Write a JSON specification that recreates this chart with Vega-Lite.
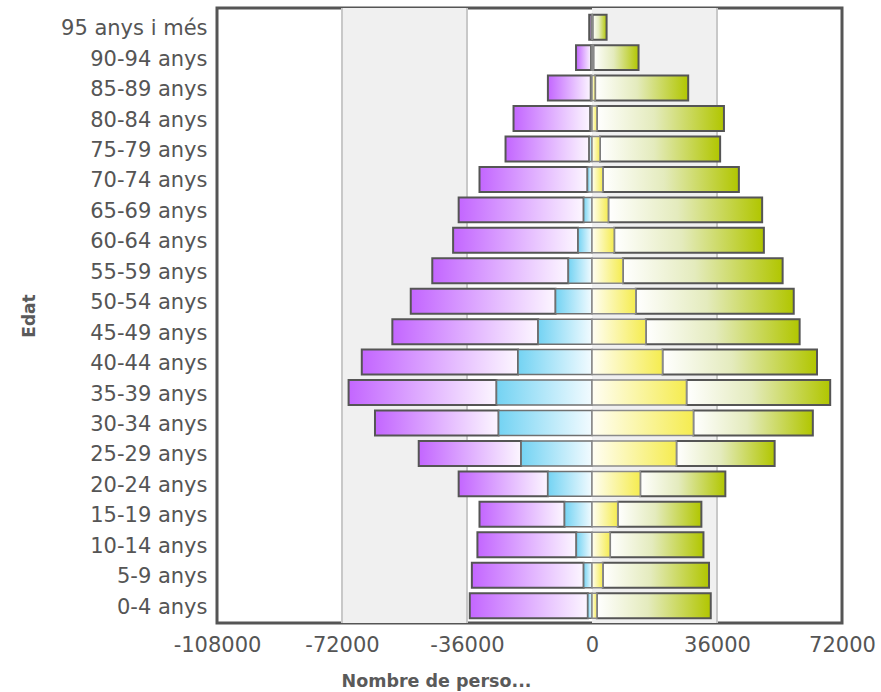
{
  "$schema": "https://vega.github.io/schema/vega-lite/v6.json",
  "autosize": "none",
  "width": 625,
  "height": 615,
  "padding": {"left": 217, "top": 8, "right": 39, "bottom": 69},
  "background": "#ffffff",
  "config": {
    "view": {"stroke": "#555555", "strokeWidth": 3},
    "font": "DejaVu Sans"
  },
  "datasets": {
    "piramide": [
      {"edat": "95 anys i més", "sexe": "Homes", "nacionalitat": "Estrangera", "persones": -100},
      {"edat": "95 anys i més", "sexe": "Homes", "nacionalitat": "Espanyola", "persones": -700},
      {"edat": "95 anys i més", "sexe": "Dones", "nacionalitat": "Estrangera", "persones": 150},
      {"edat": "95 anys i més", "sexe": "Dones", "nacionalitat": "Espanyola", "persones": 4050},
      {"edat": "90-94 anys", "sexe": "Homes", "nacionalitat": "Estrangera", "persones": -250},
      {"edat": "90-94 anys", "sexe": "Homes", "nacionalitat": "Espanyola", "persones": -4350},
      {"edat": "90-94 anys", "sexe": "Dones", "nacionalitat": "Estrangera", "persones": 400},
      {"edat": "90-94 anys", "sexe": "Dones", "nacionalitat": "Espanyola", "persones": 13000},
      {"edat": "85-89 anys", "sexe": "Homes", "nacionalitat": "Estrangera", "persones": -350},
      {"edat": "85-89 anys", "sexe": "Homes", "nacionalitat": "Espanyola", "persones": -12350},
      {"edat": "85-89 anys", "sexe": "Dones", "nacionalitat": "Estrangera", "persones": 900},
      {"edat": "85-89 anys", "sexe": "Dones", "nacionalitat": "Espanyola", "persones": 26800},
      {"edat": "80-84 anys", "sexe": "Homes", "nacionalitat": "Estrangera", "persones": -500},
      {"edat": "80-84 anys", "sexe": "Homes", "nacionalitat": "Espanyola", "persones": -22100},
      {"edat": "80-84 anys", "sexe": "Dones", "nacionalitat": "Estrangera", "persones": 1400},
      {"edat": "80-84 anys", "sexe": "Dones", "nacionalitat": "Espanyola", "persones": 36600},
      {"edat": "75-79 anys", "sexe": "Homes", "nacionalitat": "Estrangera", "persones": -800},
      {"edat": "75-79 anys", "sexe": "Homes", "nacionalitat": "Espanyola", "persones": -24100},
      {"edat": "75-79 anys", "sexe": "Dones", "nacionalitat": "Estrangera", "persones": 2300},
      {"edat": "75-79 anys", "sexe": "Dones", "nacionalitat": "Espanyola", "persones": 34600},
      {"edat": "70-74 anys", "sexe": "Homes", "nacionalitat": "Estrangera", "persones": -1300},
      {"edat": "70-74 anys", "sexe": "Homes", "nacionalitat": "Espanyola", "persones": -31100},
      {"edat": "70-74 anys", "sexe": "Dones", "nacionalitat": "Estrangera", "persones": 3100},
      {"edat": "70-74 anys", "sexe": "Dones", "nacionalitat": "Espanyola", "persones": 39200},
      {"edat": "65-69 anys", "sexe": "Homes", "nacionalitat": "Estrangera", "persones": -2400},
      {"edat": "65-69 anys", "sexe": "Homes", "nacionalitat": "Espanyola", "persones": -36000},
      {"edat": "65-69 anys", "sexe": "Dones", "nacionalitat": "Estrangera", "persones": 4700},
      {"edat": "65-69 anys", "sexe": "Dones", "nacionalitat": "Espanyola", "persones": 44300},
      {"edat": "60-64 anys", "sexe": "Homes", "nacionalitat": "Estrangera", "persones": -4000},
      {"edat": "60-64 anys", "sexe": "Homes", "nacionalitat": "Espanyola", "persones": -36000},
      {"edat": "60-64 anys", "sexe": "Dones", "nacionalitat": "Estrangera", "persones": 6400},
      {"edat": "60-64 anys", "sexe": "Dones", "nacionalitat": "Espanyola", "persones": 43100},
      {"edat": "55-59 anys", "sexe": "Homes", "nacionalitat": "Estrangera", "persones": -6800},
      {"edat": "55-59 anys", "sexe": "Homes", "nacionalitat": "Espanyola", "persones": -39200},
      {"edat": "55-59 anys", "sexe": "Dones", "nacionalitat": "Estrangera", "persones": 8900},
      {"edat": "55-59 anys", "sexe": "Dones", "nacionalitat": "Espanyola", "persones": 46000},
      {"edat": "50-54 anys", "sexe": "Homes", "nacionalitat": "Estrangera", "persones": -10500},
      {"edat": "50-54 anys", "sexe": "Homes", "nacionalitat": "Espanyola", "persones": -41700},
      {"edat": "50-54 anys", "sexe": "Dones", "nacionalitat": "Estrangera", "persones": 12600},
      {"edat": "50-54 anys", "sexe": "Dones", "nacionalitat": "Espanyola", "persones": 45500},
      {"edat": "45-49 anys", "sexe": "Homes", "nacionalitat": "Estrangera", "persones": -15500},
      {"edat": "45-49 anys", "sexe": "Homes", "nacionalitat": "Espanyola", "persones": -42000},
      {"edat": "45-49 anys", "sexe": "Dones", "nacionalitat": "Estrangera", "persones": 15500},
      {"edat": "45-49 anys", "sexe": "Dones", "nacionalitat": "Espanyola", "persones": 44300},
      {"edat": "40-44 anys", "sexe": "Homes", "nacionalitat": "Estrangera", "persones": -21300},
      {"edat": "40-44 anys", "sexe": "Homes", "nacionalitat": "Espanyola", "persones": -45000},
      {"edat": "40-44 anys", "sexe": "Dones", "nacionalitat": "Estrangera", "persones": 20300},
      {"edat": "40-44 anys", "sexe": "Dones", "nacionalitat": "Espanyola", "persones": 44500},
      {"edat": "35-39 anys", "sexe": "Homes", "nacionalitat": "Estrangera", "persones": -27500},
      {"edat": "35-39 anys", "sexe": "Homes", "nacionalitat": "Espanyola", "persones": -42600},
      {"edat": "35-39 anys", "sexe": "Dones", "nacionalitat": "Estrangera", "persones": 27200},
      {"edat": "35-39 anys", "sexe": "Dones", "nacionalitat": "Espanyola", "persones": 41400},
      {"edat": "30-34 anys", "sexe": "Homes", "nacionalitat": "Estrangera", "persones": -26900},
      {"edat": "30-34 anys", "sexe": "Homes", "nacionalitat": "Espanyola", "persones": -35600},
      {"edat": "30-34 anys", "sexe": "Dones", "nacionalitat": "Estrangera", "persones": 29200},
      {"edat": "30-34 anys", "sexe": "Dones", "nacionalitat": "Espanyola", "persones": 34400},
      {"edat": "25-29 anys", "sexe": "Homes", "nacionalitat": "Estrangera", "persones": -20400},
      {"edat": "25-29 anys", "sexe": "Homes", "nacionalitat": "Espanyola", "persones": -29500},
      {"edat": "25-29 anys", "sexe": "Dones", "nacionalitat": "Estrangera", "persones": 24300},
      {"edat": "25-29 anys", "sexe": "Dones", "nacionalitat": "Espanyola", "persones": 28300},
      {"edat": "20-24 anys", "sexe": "Homes", "nacionalitat": "Estrangera", "persones": -12700},
      {"edat": "20-24 anys", "sexe": "Homes", "nacionalitat": "Espanyola", "persones": -25700},
      {"edat": "20-24 anys", "sexe": "Dones", "nacionalitat": "Estrangera", "persones": 13900},
      {"edat": "20-24 anys", "sexe": "Dones", "nacionalitat": "Espanyola", "persones": 24500},
      {"edat": "15-19 anys", "sexe": "Homes", "nacionalitat": "Estrangera", "persones": -7900},
      {"edat": "15-19 anys", "sexe": "Homes", "nacionalitat": "Espanyola", "persones": -24500},
      {"edat": "15-19 anys", "sexe": "Dones", "nacionalitat": "Estrangera", "persones": 7400},
      {"edat": "15-19 anys", "sexe": "Dones", "nacionalitat": "Espanyola", "persones": 24100},
      {"edat": "10-14 anys", "sexe": "Homes", "nacionalitat": "Estrangera", "persones": -4500},
      {"edat": "10-14 anys", "sexe": "Homes", "nacionalitat": "Espanyola", "persones": -28500},
      {"edat": "10-14 anys", "sexe": "Dones", "nacionalitat": "Estrangera", "persones": 5200},
      {"edat": "10-14 anys", "sexe": "Dones", "nacionalitat": "Espanyola", "persones": 26900},
      {"edat": "5-9 anys", "sexe": "Homes", "nacionalitat": "Estrangera", "persones": -2400},
      {"edat": "5-9 anys", "sexe": "Homes", "nacionalitat": "Espanyola", "persones": -32200},
      {"edat": "5-9 anys", "sexe": "Dones", "nacionalitat": "Estrangera", "persones": 3100},
      {"edat": "5-9 anys", "sexe": "Dones", "nacionalitat": "Espanyola", "persones": 30600},
      {"edat": "0-4 anys", "sexe": "Homes", "nacionalitat": "Estrangera", "persones": -1200},
      {"edat": "0-4 anys", "sexe": "Homes", "nacionalitat": "Espanyola", "persones": -34000},
      {"edat": "0-4 anys", "sexe": "Dones", "nacionalitat": "Estrangera", "persones": 1400},
      {"edat": "0-4 anys", "sexe": "Dones", "nacionalitat": "Espanyola", "persones": 32800}
    ],
    "bandes": [
      {"inici": -72000, "fi": -36000},
      {"inici": 0, "fi": 36000}
    ],
    "linies": [
      {"valor": -72000},
      {"valor": -36000},
      {"valor": 36000}
    ]
  },
  "layer": [
    {
      "data": {"name": "bandes"},
      "mark": {"type": "rect", "fill": "#f0f0f0", "stroke": null},
      "encoding": {
        "x": {"field": "inici", "type": "quantitative", "scale": {"domain": [-108000, 72000], "nice": false, "zero": false},
          "axis": {
            "values": [-108000, -72000, -36000, 0, 36000, 72000],
            "labelExpr": "'' + datum.value",
            "grid": false, "ticks": false, "domain": false,
            "labelFont": "DejaVu Sans", "labelFontSize": 21, "labelColor": "#555555", "labelPadding": 11,
            "labelFlush": false, "labelOverlap": false,
            "title": "Nombre de perso...",
            "titleFont": "DejaVu Sans", "titleFontSize": 17.5, "titleFontWeight": "bold", "titleColor": "#5a5a5a",
            "titleX": 219, "titleY": 58, "titleAlign": "center", "titleBaseline": "middle"
          }
        },
        "x2": {"field": "fi"}
      }
    },
    {
      "data": {"name": "linies"},
      "mark": {"type": "rule", "color": "#c8c8c8", "strokeWidth": 2},
      "encoding": {
        "x": {"field": "valor", "type": "quantitative"}
      }
    },
    {
      "data": {"name": "piramide"},
      "transform": [
        {"stack": "persones", "groupby": ["edat", "sexe"], "sort": [{"field": "nacionalitat", "order": "descending"}], "as": ["inici", "fi"]}
      ],
      "layer": [
        {
          "transform": [{"filter": "datum.sexe === 'Homes' && datum.nacionalitat === 'Espanyola'"}],
          "mark": {"type": "bar", "stroke": "#555555", "strokeWidth": 2,
            "fill": {"gradient": "linear", "x1": 0, "y1": 0, "x2": 1, "y2": 0,
              "stops": [{"offset": 0, "color": "#c366ff"}, {"offset": 1, "color": "#fcf6ff"}]}},
          "encoding": {
            "y": {"field": "edat", "type": "nominal",
              "sort": ["95 anys i més", "90-94 anys", "85-89 anys", "80-84 anys", "75-79 anys", "70-74 anys", "65-69 anys", "60-64 anys", "55-59 anys", "50-54 anys", "45-49 anys", "40-44 anys", "35-39 anys", "30-34 anys", "25-29 anys", "20-24 anys", "15-19 anys", "10-14 anys", "5-9 anys", "0-4 anys"],
              "scale": {"paddingInner": 0.18, "paddingOuter": 0.19, "align": 0.58},
              "axis": {
                "ticks": false, "domain": false, "grid": false,
                "labelFont": "DejaVu Sans", "labelFontSize": 21, "labelColor": "#555555", "labelPadding": 10, "labelOffset": 2,
                "title": "Edat", "titleFont": "DejaVu Sans", "titleFontSize": 17, "titleFontWeight": "bold", "titleColor": "#5a5a5a",
                "titleX": -188, "titleY": 307.5, "titleAngle": 270, "titleAlign": "center", "titleBaseline": "middle"
              }
            },
            "x": {"field": "inici", "type": "quantitative"},
            "x2": {"field": "fi"}
          }
        },
        {
          "transform": [{"filter": "datum.sexe === 'Homes' && datum.nacionalitat === 'Estrangera'"}],
          "mark": {"type": "bar", "stroke": "#707070", "strokeWidth": 1.5,
            "fill": {"gradient": "linear", "x1": 0, "y1": 0, "x2": 1, "y2": 0,
              "stops": [{"offset": 0, "color": "#74d3f3"}, {"offset": 1, "color": "#f2fbff"}]}},
          "encoding": {
            "y": {"field": "edat", "type": "nominal", "sort": ["95 anys i més", "90-94 anys", "85-89 anys", "80-84 anys", "75-79 anys", "70-74 anys", "65-69 anys", "60-64 anys", "55-59 anys", "50-54 anys", "45-49 anys", "40-44 anys", "35-39 anys", "30-34 anys", "25-29 anys", "20-24 anys", "15-19 anys", "10-14 anys", "5-9 anys", "0-4 anys"]},
            "x": {"field": "inici", "type": "quantitative"},
            "x2": {"field": "fi"}
          }
        },
        {
          "transform": [{"filter": "datum.sexe === 'Dones' && datum.nacionalitat === 'Espanyola'"}],
          "mark": {"type": "bar", "stroke": "#555555", "strokeWidth": 2,
            "fill": {"gradient": "linear", "x1": 0, "y1": 0, "x2": 1, "y2": 0,
              "stops": [{"offset": 0, "color": "#ffffff"}, {"offset": 0.45, "color": "#e4ebbd"}, {"offset": 1, "color": "#b1c600"}]}},
          "encoding": {
            "y": {"field": "edat", "type": "nominal", "sort": ["95 anys i més", "90-94 anys", "85-89 anys", "80-84 anys", "75-79 anys", "70-74 anys", "65-69 anys", "60-64 anys", "55-59 anys", "50-54 anys", "45-49 anys", "40-44 anys", "35-39 anys", "30-34 anys", "25-29 anys", "20-24 anys", "15-19 anys", "10-14 anys", "5-9 anys", "0-4 anys"]},
            "x": {"field": "inici", "type": "quantitative"},
            "x2": {"field": "fi"}
          }
        },
        {
          "transform": [{"filter": "datum.sexe === 'Dones' && datum.nacionalitat === 'Estrangera'"}],
          "mark": {"type": "bar", "stroke": "#8a8a8a", "strokeWidth": 1.5,
            "fill": {"gradient": "linear", "x1": 0, "y1": 0, "x2": 1, "y2": 0,
              "stops": [{"offset": 0, "color": "#fffef4"}, {"offset": 1, "color": "#f5ec50"}]}},
          "encoding": {
            "y": {"field": "edat", "type": "nominal", "sort": ["95 anys i més", "90-94 anys", "85-89 anys", "80-84 anys", "75-79 anys", "70-74 anys", "65-69 anys", "60-64 anys", "55-59 anys", "50-54 anys", "45-49 anys", "40-44 anys", "35-39 anys", "30-34 anys", "25-29 anys", "20-24 anys", "15-19 anys", "10-14 anys", "5-9 anys", "0-4 anys"]},
            "x": {"field": "inici", "type": "quantitative"},
            "x2": {"field": "fi"}
          }
        }
      ]
    },
    {
      "mark": {"type": "rule", "color": "#8c8c8c", "strokeWidth": 3},
      "encoding": {"x": {"datum": 0}}
    }
  ]
}
